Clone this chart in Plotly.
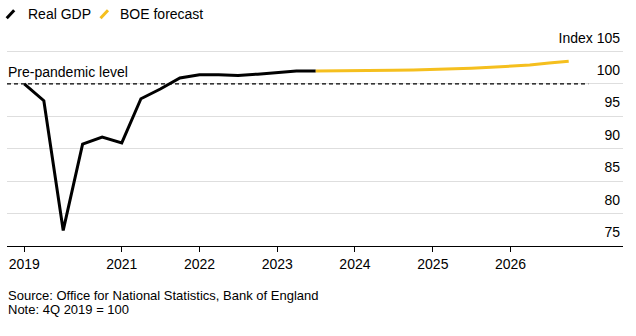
import plotly.graph_objects as go

# ---- data ----
gdp_quarters = ["2019-10-01", "2020-01-01", "2020-04-01", "2020-07-01", "2020-10-01",
                "2021-01-01", "2021-04-01", "2021-07-01", "2021-10-01", "2022-01-01",
                "2022-04-01", "2022-07-01", "2022-10-01", "2023-01-01", "2023-04-01",
                "2023-07-01"]
gdp_values = [100.0, 97.4, 77.4, 90.7, 91.8, 90.9, 97.7, 99.2, 100.9, 101.4,
              101.4, 101.3, 101.5, 101.8, 102.0, 102.0]

fc_quarters = ["2023-07-01", "2023-10-01", "2024-01-01", "2024-04-01", "2024-07-01",
               "2024-10-01", "2025-01-01", "2025-04-01", "2025-07-01", "2025-10-01",
               "2026-01-01", "2026-04-01", "2026-07-01", "2026-10-01"]
fc_values = [102.0, 102.0, 102.0, 102.05, 102.1, 102.15, 102.2, 102.3, 102.4,
             102.55, 102.7, 102.9, 103.2, 103.5]

series_names = ["Real GDP", "BOE forecast"]
x_tick_dates = ["2019-10-01", "2021-01-01", "2022-01-01", "2023-01-01",
                "2024-01-01", "2025-01-01", "2026-01-01"]
x_tick_labels = ["2019", "2021", "2022", "2023", "2024", "2025", "2026"]
y_tick_vals = [75, 80, 85, 90, 95, 100, 105]
y_tick_labels = ["75", "80", "85", "90", "95", "100", "Index 105"]
pre_pandemic_level = 100
pre_pandemic_label = "Pre-pandemic level"
source_text = "Source: Office for National Statistics, Bank of England"
note_text = "Note: 4Q 2019 = 100"

# ---- style ----
W, H = 636, 336
Y_LO, Y_HI = 75, 110
PX_PER_UNIT = 6.5
MB = 90
PH = (Y_HI - Y_LO) * PX_PER_UNIT
ML, MR = 7, 13
MT = H - MB - PH
PW = W - ML - MR
BLACK = "#000000"
YELLOW = "#F5BF1E"
FONT = "Liberation Sans, Arial, Helvetica, sans-serif"


def px_x(px):
    return (px - ML) / PW


def px_y(py):
    return (H - MB - py) / PH


fig = go.Figure()
fig.add_trace(go.Scatter(x=gdp_quarters, y=gdp_values, mode="lines", name=series_names[0],
                         line=dict(color=BLACK, width=3), showlegend=False))
fig.add_trace(go.Scatter(x=fc_quarters, y=fc_values, mode="lines", name=series_names[1],
                         line=dict(color=YELLOW, width=3), showlegend=False))

# pre-pandemic dashed line
fig.add_shape(type="line", xref="x", yref="y", x0="2019-07-12", x1="2027-01-01",
              y0=pre_pandemic_level, y1=pre_pandemic_level,
              line=dict(color=BLACK, width=1.3, dash="4px,3px"), layer="above")
fig.add_annotation(xref="paper", yref="y", x=0, y=pre_pandemic_level, xanchor="left",
                   yanchor="middle", yshift=11.5, text=pre_pandemic_label, showarrow=False,
                   font=dict(family=FONT, size=14, color=BLACK), xshift=-1)

# legend built from shapes + annotations
legend_items = [(series_names[0], BLACK, 6.7, 26.0), (series_names[1], YELLOW, 100.5, 117.5)]
for name, col, sx, tx in legend_items:
    fig.add_shape(type="line", xref="paper", yref="paper",
                  x0=px_x(sx), y0=px_y(17.8), x1=px_x(sx + 7.5), y1=px_y(9.8),
                  line=dict(color=col, width=3))
    fig.add_annotation(xref="paper", yref="paper", x=px_x(tx), y=px_y(13.5),
                       xanchor="left", yanchor="middle", text=name, showarrow=False,
                       font=dict(family=FONT, size=14, color=BLACK))

fig.add_annotation(xref="paper", yref="paper", x=0, y=px_y(296), xanchor="left",
                   yanchor="middle", text=source_text, showarrow=False, xshift=-1,
                   font=dict(family=FONT, size=13, color=BLACK))
fig.add_annotation(xref="paper", yref="paper", x=0, y=px_y(309.5), xanchor="left",
                   yanchor="middle", text=note_text, showarrow=False, xshift=-1,
                   font=dict(family=FONT, size=13, color=BLACK))

fig.update_xaxes(type="date", range=["2019-07-12", "2027-06-13"],
                 tickvals=x_tick_dates, ticktext=x_tick_labels,
                 showgrid=False, zeroline=False, showline=True, linecolor=BLACK, linewidth=1.2,
                 ticks="outside", ticklen=5, tickcolor=BLACK, tickwidth=1,
                 tickfont=dict(family=FONT, size=14, color=BLACK))
fig.update_yaxes(range=[Y_LO, Y_HI], tickvals=y_tick_vals, ticktext=y_tick_labels,
                 side="right", ticklabelposition="inside top", ticklabelshift=-4,
                 showgrid=True, gridcolor="#dedede", gridwidth=1, zeroline=False,
                 showline=False, ticks="",
                 tickfont=dict(family=FONT, size=14, color=BLACK))

fig.update_layout(width=W, height=H, margin=dict(l=ML, r=MR, t=MT, b=MB),
                  paper_bgcolor="white", plot_bgcolor="white", showlegend=False)

fig.write_html("out.html")
